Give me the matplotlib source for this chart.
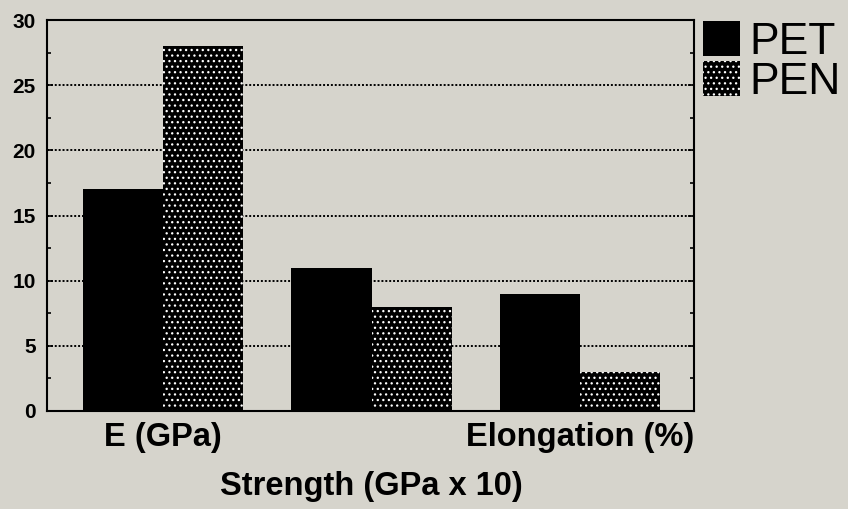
import matplotlib
matplotlib.use('Agg')
import matplotlib.pyplot as plt
import numpy as np

# property values for the two films
categories = ['E (GPa)', 'Strength (GPa x 10)', 'Elongation (%)']
pet_values = [17, 11, 9]
pen_values = [28, 8, 3]
series_names = ['PET', 'PEN']

bg = '#d6d4cc'
plt.rcParams['font.family'] = ['Liberation Sans', 'DejaVu Sans']
plt.rcParams['hatch.linewidth'] = 0.9

fig = plt.figure(figsize=(8.48, 5.09), dpi=100, facecolor=bg)
ax = fig.add_axes([47/848, 1 - 411/509, (694 - 47)/848, (411 - 20)/509])
ax.set_facecolor(bg)

x = np.arange(len(categories))
w = 0.385
b1 = ax.bar(x - w/2, pet_values, w, color='black', edgecolor='black', linewidth=0, label=series_names[0])
b2 = ax.bar(x + w/2, pen_values, w, color='black', edgecolor='white', linewidth=0,
            hatch='...', label=series_names[1])

ax.set_xlim(-0.558, 2.548)
ax.set_ylim(0, 30)

# dotted grid lines
ax.set_axisbelow(True)
for v in [5, 10, 15, 20, 25]:
    ax.axhline(v, color='black', lw=1.4, ls=(0, (1, 1)), zorder=0)

for s in ax.spines.values():
    s.set_linewidth(1.5)
    s.set_color('black')

ax.set_yticks([0, 5, 10, 15, 20, 25, 30])
ax.set_yticks(np.arange(2.5, 30, 5), minor=True)
ax.tick_params(axis='y', which='both', direction='in', right=True, width=1.2, pad=8,
               labelsize=15)
ax.tick_params(axis='y', which='major', length=4)
ax.tick_params(axis='y', which='minor', length=3)
for lab in ax.get_yticklabels():
    lab.set_fontweight('bold')

# first and last category under the bars, middle one set lower
ax.set_xticks(x)
ax.set_xticklabels([categories[0], '', categories[2]], fontsize=23.5, fontweight='bold')
ax.tick_params(axis='x', length=0, pad=8)
ax.text(x[1], -0.153, categories[1], transform=ax.get_xaxis_transform(),
        ha='center', va='top', fontsize=23.5, fontweight='bold')

leg = ax.legend(handles=[b1, b2], loc='upper left', bbox_to_anchor=(1.0, 1.02),
                frameon=False, fontsize=32, handlelength=0.83, handleheight=0.83,
                handletextpad=0.22, labelspacing=-0.05, borderaxespad=0.2,
                borderpad=0.0)

fig.savefig('out.png', dpi=100, facecolor=bg)
